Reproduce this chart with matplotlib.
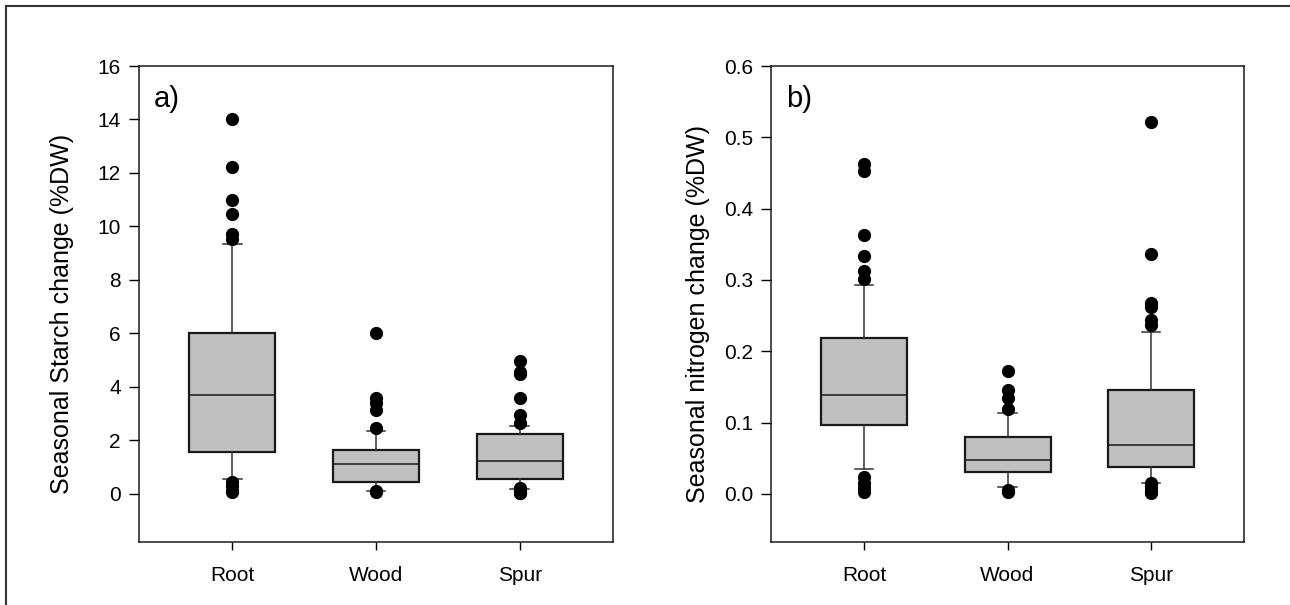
import numpy as np
import matplotlib
matplotlib.use('Agg')
import matplotlib.pyplot as plt
from matplotlib.patches import Rectangle

plt.rcParams['font.family'] = ['Liberation Sans', 'DejaVu Sans']

tissues = ['Root', 'Wood', 'Spur']

# a) seasonal starch change (%DW)
starch_q1 = [1.55, 0.44, 0.56]
starch_med = [3.70, 1.13, 1.24]
starch_q3 = [6.00, 1.64, 2.25]
starch_lo = [0.57, 0.12, 0.19]
starch_hi = [9.33, 2.36, 2.54]
starch_out = [
    [14.0, 12.23, 10.98, 10.48, 9.70, 9.54, 0.45, 0.30, 0.12, 0.08],
    [6.01, 3.60, 3.39, 3.14, 2.46, 0.12, 0.08],
    [4.98, 4.57, 4.49, 3.58, 2.95, 2.64, 0.22, 0.12, 0.05, 0.03],
]

# b) seasonal nitrogen change (%DW)
nitro_q1 = [0.096, 0.030, 0.037]
nitro_med = [0.138, 0.048, 0.069]
nitro_q3 = [0.219, 0.080, 0.145]
nitro_lo = [0.035, 0.009, 0.015]
nitro_hi = [0.293, 0.114, 0.227]
nitro_out = [
    [0.462, 0.453, 0.363, 0.333, 0.312, 0.301, 0.024, 0.015, 0.008, 0.003],
    [0.172, 0.145, 0.134, 0.119, 0.006, 0.003],
    [0.521, 0.337, 0.267, 0.262, 0.244, 0.237, 0.015, 0.010, 0.004, 0.001],
]

starch_ticks = np.arange(0, 17, 2)
nitro_ticks = np.arange(0, 0.61, 0.1)


def stats(q1, med, q3, lo, hi, out):
    s = []
    for i in range(len(q1)):
        s.append(dict(q1=q1[i], med=med[i], q3=q3[i], whislo=lo[i],
                      whishi=hi[i], fliers=out[i], label=tissues[i]))
    return s


def boxax(a, st, ylim, yticks, fmt, ylabel, tag, lx):
    a.bxp(st, positions=[0, 1, 2], widths=0.6, capwidths=0.13,
          patch_artist=True, showfliers=True,
          boxprops=dict(facecolor='#c0c0c0', edgecolor='#1a1a1a', linewidth=1.6),
          medianprops=dict(color='#1a1a1a', linewidth=1.1),
          whiskerprops=dict(color='#333333', linewidth=1.1),
          capprops=dict(color='#333333', linewidth=1.1),
          flierprops=dict(marker='o', markerfacecolor='black',
                          markeredgecolor='black', markersize=8.5))
    a.set_xlim(-0.65, 2.65)
    a.set_ylim(*ylim)
    a.set_yticks(yticks)
    a.set_yticklabels([fmt % v for v in yticks])
    a.set_xticks([0, 1, 2])
    a.set_xticklabels(tissues)
    a.tick_params(axis='y', length=7, width=1, labelsize=15, pad=6)
    a.tick_params(axis='x', length=6, width=1, labelsize=15, pad=11)
    for sp in a.spines.values():
        sp.set_linewidth(1.1)
        sp.set_color('#1a1a1a')
    a.set_ylabel(ylabel, fontsize=18)
    a.yaxis.set_label_coords(lx, 0.48)
    a.text(0.032, 0.96, tag, transform=a.transAxes, fontsize=21,
           ha='left', va='top')


fig = plt.figure(figsize=(12.9, 6.05), dpi=100)
ax1 = fig.add_axes([139 / 1290, 63 / 605, 474 / 1290, 476 / 605])
ax2 = fig.add_axes([771 / 1290, 63 / 605, 473 / 1290, 476 / 605])

boxax(ax1, stats(starch_q1, starch_med, starch_q3, starch_lo, starch_hi, starch_out),
      (-1.8, 16), starch_ticks, '%d', 'Seasonal Starch change (%DW)', 'a)', -0.138)
boxax(ax2, stats(nitro_q1, nitro_med, nitro_q3, nitro_lo, nitro_hi, nitro_out),
      (-0.0675, 0.6), nitro_ticks, '%.1f', 'Seasonal nitrogen change (%DW)', 'b)', -0.128)

# outer frame, cut by right and bottom edges
fig.patches.append(Rectangle((6 / 1290, -0.02), 1.05, 1 - 6 / 605 + 0.02,
                             transform=fig.transFigure, fill=False,
                             edgecolor='#333333', linewidth=1.5, clip_on=False))

fig.savefig('out.png', dpi=100)
